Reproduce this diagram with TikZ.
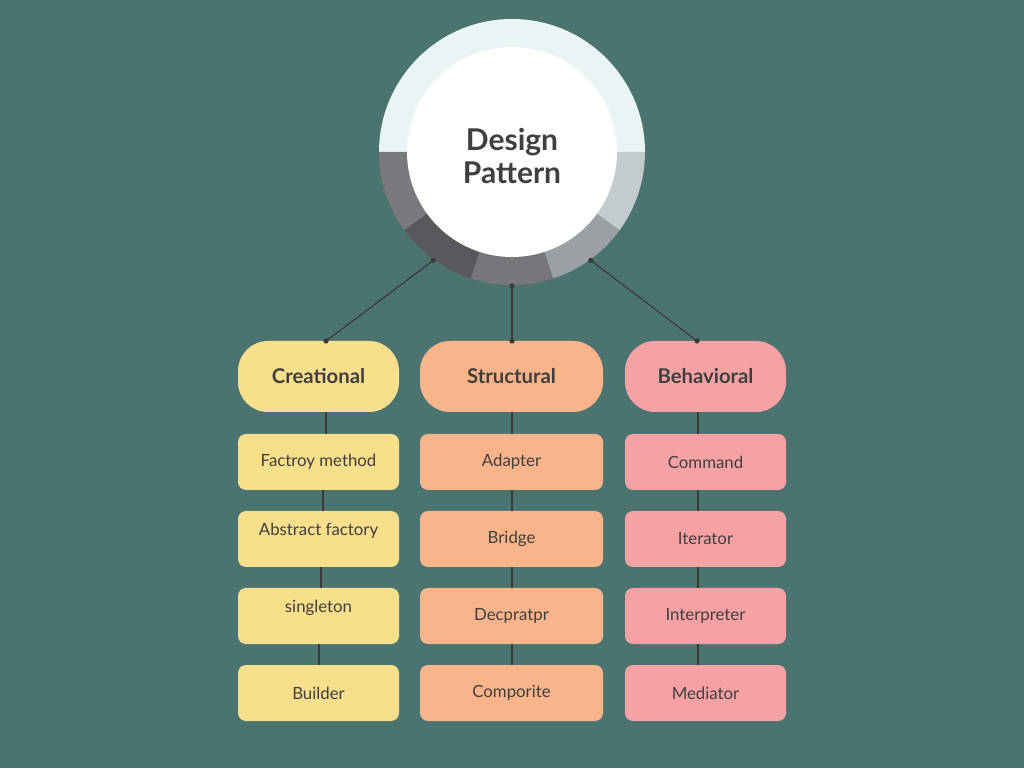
\documentclass[tikz,border=0pt]{standalone}
\usepackage{fontspec}
\setmainfont{Lato}
\usetikzlibrary{positioning}
\usetikzlibrary{calc}

\definecolor{bgteal}{HTML}{4B7471}
\definecolor{ringtop}{HTML}{E9F4F5}
\definecolor{segA}{HTML}{7A797E}
\definecolor{segB}{HTML}{59585D}
\definecolor{segC}{HTML}{77777B}
\definecolor{segD}{HTML}{9AA0A3}
\definecolor{segE}{HTML}{C4CBCE}
\definecolor{creafill}{HTML}{F7DF8C}
\definecolor{strufill}{HTML}{F9B48A}
\definecolor{behafill}{HTML}{F6A1A3}
\definecolor{inktext}{HTML}{3F3F3F}
\definecolor{wire}{HTML}{3A3A3A}

\tikzset{
  header/.style={rounded corners=30pt, minimum height=71pt, inner sep=0pt,
    outer sep=0pt, text=inktext, font=\bfseries\fontsize{20.3}{24}\selectfont},
  item/.style={rounded corners=8pt, minimum height=56pt, inner sep=0pt,
    outer sep=0pt, text=inktext, font=\fontsize{16.8}{20}\selectfont},
  wireline/.style={draw=wire, line width=1.2pt},
  dot/.style={fill=wire}
}

\begin{document}
\begin{tikzpicture}[x=1pt,y=1pt]
  \fill[bgteal] (0,0) rectangle (1024,768);
  \useasboundingbox (0,0) rectangle (1024,768);

  % the ring
  \coordinate (ctr) at (512,616);
  \fill[ringtop] (ctr) -- ++(0:133) arc[start angle=0, end angle=180, radius=133] -- cycle;
  \foreach \a/\c in {180/segA,216/segB,252/segC,288/segD,324/segE}
    \fill[\c] (ctr) -- ++(\a:133) arc[start angle=\a, delta angle=36, radius=133] -- cycle;
  \fill[white] (ctr) circle (105);
  \node[text=inktext, align=center, font=\bfseries\fontsize{30}{33}\selectfont]
    (core) at ([yshift=-4pt]ctr) {Design\\Pattern};

  % headers
  \node[header, fill=creafill, minimum width=161pt] (crea) at (318.5,391.5) {Creational};
  \node[header, fill=strufill, minimum width=183pt] (stru) at (511.5,391.5) {Structural};
  \node[header, fill=behafill, minimum width=161pt] (beha) at (705.5,391.5) {Behavioral};

  % items
  \node[item, fill=creafill, minimum width=161pt] (crea1) at (318.5,306) {Factroy method};
  \node[item, fill=creafill, minimum width=161pt] (crea2) at (318.5,229) {\raisebox{20pt}{Abstract factory}};
  \node[item, fill=creafill, minimum width=161pt] (crea3) at (318.5,152) {\raisebox{20pt}{singleton}};
  \node[item, fill=creafill, minimum width=161pt] (crea4) at (318.5,75) {Builder};

  \node[item, fill=strufill, minimum width=183pt] (stru1) at (511.5,306) {Adapter};
  \node[item, fill=strufill, minimum width=183pt] (stru2) at (511.5,229) {Bridge};
  \node[item, fill=strufill, minimum width=183pt] (stru3) at (511.5,152) {Decpratpr};
  \node[item, fill=strufill, minimum width=183pt] (stru4) at (511.5,75) {Comporite};

  \node[item, fill=behafill, minimum width=161pt] (beha1) at (705.5,306) {Command};
  \node[item, fill=behafill, minimum width=161pt] (beha2) at (705.5,229) {Iterator};
  \node[item, fill=behafill, minimum width=161pt] (beha3) at (705.5,152) {Interpreter};
  \node[item, fill=behafill, minimum width=161pt] (beha4) at (705.5,75) {Mediator};

  % from the ring to the headers
  \coordinate (outA) at ($(ctr)+(234:134)$);
  \coordinate (outB) at ($(ctr)+(270:134)$);
  \coordinate (outC) at ($(ctr)+(306:134)$);
  \draw[wireline] (outA) -- ([xshift=7.5pt]crea.north);
  \draw[wireline] (outB) -- ([xshift=0.5pt]stru.north);
  \draw[wireline] (outC) -- ([xshift=-8.5pt]beha.north);
  \foreach \p in {outA,outB,outC} \fill[dot] (\p) circle (2.6pt);
  \fill[dot] ([xshift=7.5pt]crea.north) circle (2.6pt);
  \fill[dot] ([xshift=0.5pt]stru.north) circle (2.6pt);
  \fill[dot] ([xshift=-8.5pt]beha.north) circle (2.6pt);

  % down the columns
  \draw[wireline] ([xshift=7.5pt]crea.south) -- ([xshift=7.5pt]crea1.north);
  \draw[wireline] ([xshift=4.5pt]crea1.south) -- ([xshift=4.5pt]crea2.north);
  \draw[wireline] ([xshift=2.5pt]crea2.south) -- ([xshift=2.5pt]crea3.north);
  \draw[wireline] ([xshift=0.5pt]crea3.south) -- ([xshift=0.5pt]crea4.north);
  \draw[wireline] ([xshift=0.5pt]stru.south) -- ([xshift=0.5pt]stru1.north);
  \foreach \i/\j in {1/2,2/3,3/4}
    \draw[wireline] ([xshift=0.5pt]stru\i.south) -- ([xshift=0.5pt]stru\j.north);
  \draw[wireline] ([xshift=-7.5pt]beha.south) -- ([xshift=-7.5pt]beha1.north);
  \foreach \i/\j in {1/2,2/3,3/4}
    \draw[wireline] ([xshift=-7.5pt]beha\i.south) -- ([xshift=-7.5pt]beha\j.north);
\end{tikzpicture}
\end{document}
